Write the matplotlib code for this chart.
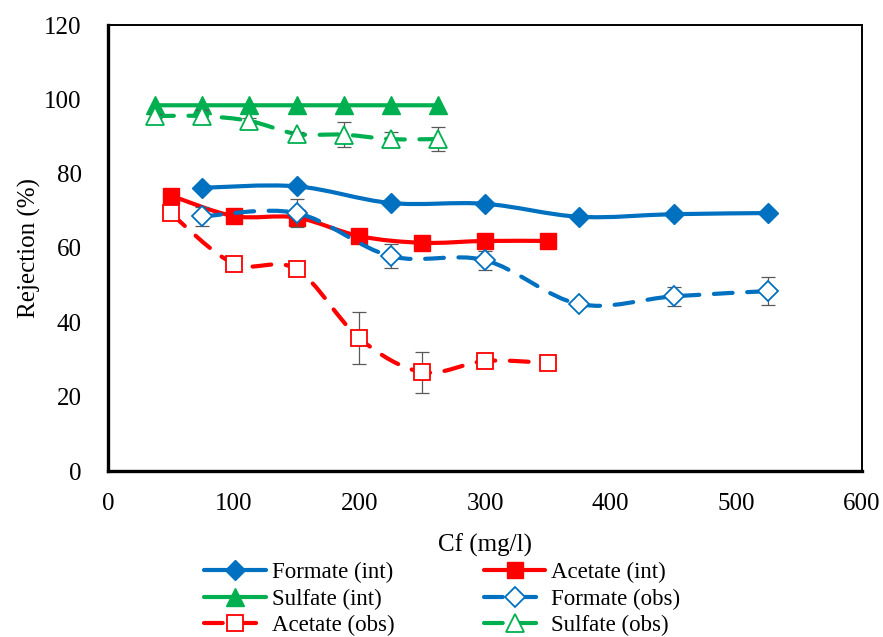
import numpy as np
import matplotlib
matplotlib.use("Agg")
import matplotlib.pyplot as plt
from matplotlib.path import Path
from matplotlib.patches import PathPatch
from matplotlib.lines import Line2D

plt.rcParams['font.family'] = ['Liberation Serif', 'DejaVu Serif']

# data
cf_formate = [75, 150, 225, 300, 375, 450, 525]
cf_acetate = [50, 100, 150, 200, 250, 300, 350]
cf_sulfate = [37.5, 75, 112.5, 150, 187.5, 225, 262.5]

formate_int = [76.2, 76.6, 72.1, 71.9, 68.4, 69.1, 69.4]
acetate_int = [74.1, 68.6, 68.2, 63.2, 61.4, 61.9, 61.9]
sulfate_int = [98.4, 98.4, 98.4, 98.4, 98.4, 98.4, 98.4]

formate_obs = [68.5, 69.4, 57.8, 56.7, 44.9, 47.0, 48.4]
formate_err = [2.5, 3.7, 3.2, 2.5, 0.8, 2.5, 3.8]
acetate_obs = [69.3, 55.8, 54.3, 35.7, 26.6, 29.6, 29.1]
acetate_err = [0.0, 0.0, 0.0, 7.0, 5.5, 0.0, 0.0]
sulfate_obs = [95.5, 95.5, 94.2, 90.7, 90.5, 89.3, 89.3]
sulfate_err = [0.6, 1.5, 0.8, 0.5, 3.3, 2.0, 3.3]

BLUE = '#0070C0'
RED = '#FF0000'
GREEN = '#00B050'


def smooth_path(x, y):
    # excel-like smoothed line: bezier segments through the points
    pts = np.column_stack([x, y]).astype(float)
    n = len(pts)
    verts = [pts[0]]
    codes = [Path.MOVETO]
    for i in range(n - 1):
        p0 = pts[i - 1] if i > 0 else pts[i]
        p1 = pts[i]
        p2 = pts[i + 1]
        p3 = pts[i + 2] if i + 2 < n else pts[i + 1]
        verts += [p1 + (p2 - p0) / 6, p2 - (p3 - p1) / 6, p2]
        codes += [Path.CURVE4] * 3
    return Path(verts, codes)


def draw_series(ax, x, y, color, marker, ms, dashed, hollow, err=None, z=2):
    ls = (0, (4.5, 3.5)) if dashed else '-'
    patch = PathPatch(smooth_path(x, y), fill=False, edgecolor=color, lw=3,
                      linestyle=ls, capstyle='round', joinstyle='round', zorder=z)
    ax.add_patch(patch)
    if err is not None:
        ax.errorbar(x, y, yerr=err, fmt='none', ecolor='#595959', elinewidth=0.9,
                    capsize=5, capthick=0.9, zorder=z + 0.1)
    fc = 'white' if hollow else color
    ax.plot(x, y, ls='none', marker=marker, ms=ms, mfc=fc, mec=color,
            mew=1.3 if hollow else 1, zorder=z + 0.2)
    return Line2D([], [], color=color, lw=3, linestyle=ls, dash_capstyle='round',
                  solid_capstyle='round', marker=marker, ms=ms, mfc=fc, mec=color,
                  mew=1.3 if hollow else 1)


fig = plt.figure(figsize=(8.83, 6.37), dpi=100)
ax = fig.add_axes([108 / 883, 1 - 471 / 637, 754 / 883, 446 / 637])

h_fi = draw_series(ax, cf_formate, formate_int, BLUE, 'D', 10, False, False, z=2)
h_ai = draw_series(ax, cf_acetate, acetate_int, RED, 's', 12, False, False, z=3)
h_si = draw_series(ax, cf_sulfate, sulfate_int, GREEN, '^', 13, False, False, z=4)
h_fo = draw_series(ax, cf_formate, formate_obs, BLUE, 'D', 10, True, True, formate_err, z=5)
h_ao = draw_series(ax, cf_acetate, acetate_obs, RED, 's', 12, True, True, acetate_err, z=6)
h_so = draw_series(ax, cf_sulfate, sulfate_obs, GREEN, '^', 13, True, True, sulfate_err, z=7)

ax.set_xlim(0, 600)
ax.set_ylim(0, 120)
ax.set_xticks(range(0, 601, 100))
ax.set_yticks(range(0, 121, 20))
ax.tick_params(length=0, labelsize=18, pad=16)
ax.tick_params(axis='y', pad=19)
for side in ['left', 'bottom']:
    ax.spines[side].set_linewidth(2.4)
for side in ['top', 'right']:
    ax.spines[side].set_linewidth(1.4)

ax.set_xlabel('Cf (mg/l)', fontsize=18, labelpad=13)
ax.set_ylabel('Rejection (%)', fontsize=18, labelpad=2)

handles = [h_fi, h_si, h_ao, h_ai, h_fo, h_so]
labels = ['Formate (int)', 'Sulfate (int)', 'Acetate (obs)',
          'Acetate (int)', 'Formate (obs)', 'Sulfate (obs)']
fig.legend(handles, labels, ncol=2, loc='upper left', bbox_to_anchor=(204 / 883, 1 - 562 / 637),
           frameon=False, fontsize=16.5, handlelength=2.7, handletextpad=0.25,
           columnspacing=3.9, labelspacing=0.24, borderpad=0, borderaxespad=0)

fig.savefig('out.png', dpi=100)
